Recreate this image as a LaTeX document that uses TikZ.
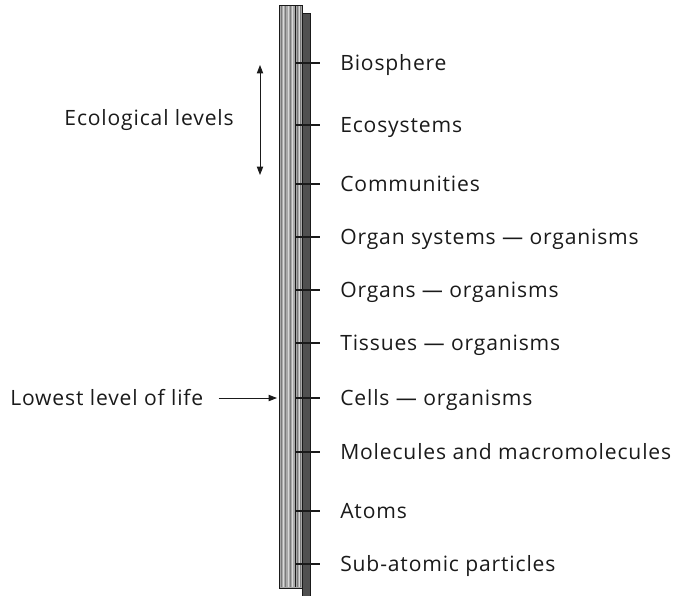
\documentclass[tikz,border=0pt]{standalone}
\usepackage{fontspec}
\setmainfont[LetterSpace=4]{Open Sans}
\usetikzlibrary{arrows.meta}
\definecolor{levelink}{HTML}{1A1A1A}
\definecolor{polelight}{HTML}{A9A9A9}
\definecolor{polestripe}{HTML}{D8D8D8}
\definecolor{polegrain}{HTML}{7A7A7A}
\definecolor{poledark}{HTML}{505050}

\begin{document}
\begin{tikzpicture}[
  x=0.025cm,
  y=-0.025cm,
  every node/.style={font=\fontsize{15}{18}\selectfont, text=levelink, inner sep=0pt},
  pole/.style={draw=levelink, line width=0.6pt, fill=polelight},
  shadow/.style={draw=levelink, line width=0.6pt, fill=poledark},
  stripe/.style={polestripe, line width=0.7pt},
  grain/.style={polegrain, line width=0.4pt},
  tick/.style={levelink, line width=0.8pt},
  pointer/.style={levelink, line width=0.7pt, -{Triangle[length=6pt, width=4.5pt]}},
  span/.style={levelink, line width=0.7pt, {Triangle[length=6pt, width=4.5pt]}-{Triangle[length=6pt, width=4.5pt]}}
]
  % ---- page frame, in pixels of the reference ----
  \useasboundingbox (0,0) rectangle (683,595);

  % ---- the pole and its shadow ----
  \filldraw[shadow] (302,13) rectangle (310,596);
  \filldraw[pole] (279,5) rectangle (302,588);
  \foreach \sx in {283,288,292,299}
    \draw[stripe] (\sx,6) -- (\sx,587);
  \foreach \sx in {281,285,290,297,300}
    \draw[grain] (\sx,6) -- (\sx,587);
  \draw[levelink, line width=0.5pt] (295,6) -- (295,587);

  % ---- levels: tick on the pole, label to its right ----
  \foreach \i/\ty/\txt in {
      1/63/Biosphere,
      2/125/Ecosystems,
      3/184/Communities,
      4/237/Organ systems --- organisms,
      5/290/Organs --- organisms,
      6/343/Tissues --- organisms,
      7/398/Cells --- organisms,
      8/452/Molecules and macromolecules,
      9/511/Atoms,
      10/564/Sub-atomic particles} {
    \draw[tick] (295,\ty) -- (320,\ty) coordinate (tick-\i);
    \node[anchor=base west] (level-\i) at ([xshift=0.5cm, yshift=-0.18cm]tick-\i) {\txt};
  }

  % ---- ecological levels ----
  \node[anchor=base east] (ecological) at (234,125) {Ecological levels};
  \coordinate (eco-top) at (260,65);
  \coordinate (eco-bottom) at (260,175);
  \draw[span] (eco-top) -- (eco-bottom);

  % ---- lowest level of life ----
  \node[anchor=base west] (lowest) at (10,405) {Lowest level of life};
  \coordinate (cells-tip) at (277,398);
  \draw[pointer] ([xshift=0.375cm]lowest.east |- cells-tip) -- (cells-tip);
\end{tikzpicture}
\end{document}
